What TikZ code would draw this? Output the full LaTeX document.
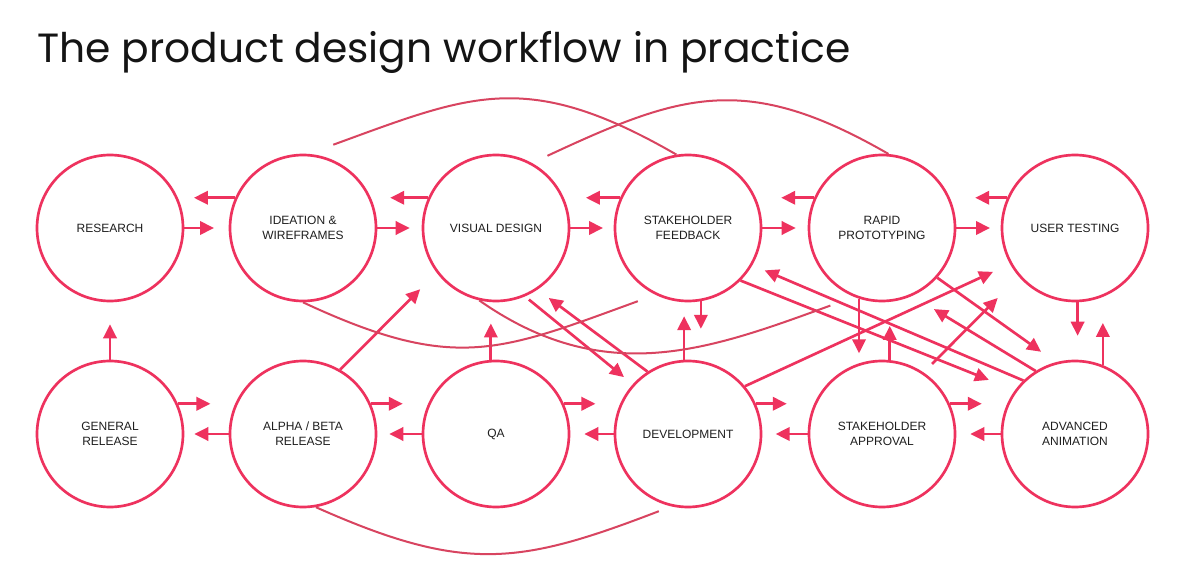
\documentclass[tikz,border=0pt]{standalone}
\usepackage{fontspec}
\setmainfont{Liberation Sans}
\newfontfamily\titlefont{Poppins}
\usetikzlibrary{arrows.meta}

\definecolor{flowred}{RGB}{238,50,94}
\definecolor{swoopred}{RGB}{216,68,96}

\begin{document}
\begin{tikzpicture}[x=0.75pt,y=-0.75pt,
    stage/.style={circle, draw=flowred, line width=2pt, minimum size=109.5pt,
        inner sep=0pt, align=center, text=black!88,
        font=\fontsize{9}{11}\selectfont},
    link/.style={draw=flowred, line width=2pt,
        -{Triangle[length=10.5pt,width=10pt]}},
    swoop/.style={draw=swoopred, line width=1.5pt}]
    \fill[white] (0,0) rectangle (1200,581);
    \useasboundingbox (0,0) rectangle (1200,581);

    \node[anchor=base west, inner sep=0pt, text=black!92,
        font=\titlefont\fontsize{30.6}{36}\selectfont] (title) at (37,63)
        {The product design workflow in practice};

    % top row
    \node[stage] (res) at (110,228) {RESEARCH};
    \node[stage] (ide) at (303,228) {IDEATION \&\\WIREFRAMES};
    \node[stage] (vis) at (496,228) {VISUAL DESIGN};
    \node[stage] (sfb) at (688,228) {STAKEHOLDER\\FEEDBACK};
    \node[stage] (rap) at (882,228) {RAPID\\PROTOTYPING};
    \node[stage] (ute) at (1075,228) {USER TESTING};

    % bottom row
    \node[stage] (gen) at (110,434) {GENERAL\\RELEASE};
    \node[stage] (alp) at (303,434) {ALPHA / BETA\\RELEASE};
    \node[stage] (qa)  at (496,434) {QA};
    \node[stage] (dev) at (688,434) {DEVELOPMENT};
    \node[stage] (sap) at (882,434) {STAKEHOLDER\\APPROVAL};
    \node[stage] (ani) at (1075,434) {ADVANCED\\ANIMATION};

    % top row, back and forth
    \draw[link, shorten >=12pt] (ide.156) -- (res.24);
    \draw[link, shorten >=11pt] (res.east) -- (ide.west);
    \draw[link, shorten >=14.5pt] (vis.156) -- (ide.24);
    \draw[link, shorten >=9pt] (ide.east) -- (vis.west);
    \draw[link, shorten >=16.5pt] (sfb.156) -- (vis.24);
    \draw[link, shorten >=8pt] (vis.east) -- (sfb.west);
    \draw[link, shorten >=19pt] (rap.156) -- (sfb.24);
    \draw[link, shorten >=9pt] (sfb.east) -- (rap.west);
    \draw[link, shorten >=19pt] (ute.156) -- (rap.24);
    \draw[link, shorten >=8pt] (rap.east) -- (ute.west);

    % bottom row, back and forth
    \draw[link, shorten >=18.5pt] (gen.24) -- (alp.156);
    \draw[link, shorten >=7.5pt] (alp.west) -- (gen.east);
    \draw[link, shorten >=19pt] (alp.24) -- (qa.156);
    \draw[link, shorten >=9pt] (qa.west) -- (alp.east);
    \draw[link, shorten >=18.5pt] (qa.24) -- (dev.156);
    \draw[link, shorten >=10.5pt] (dev.west) -- (qa.east);
    \draw[link, shorten >=20.5pt] (dev.24) -- (sap.156);
    \draw[link, shorten >=10pt] (sap.west) -- (dev.east);
    \draw[link, shorten >=19pt] (sap.24) -- (ani.156);
    \draw[link, shorten >=10.5pt] (ani.west) -- (sap.east);

    % between the rows
    \draw[link, shorten >=16.5pt] (gen.north) -- (res.south);
    \draw[link, shorten >=16pt] (qa.94) -- (vis.266);
    \draw[link, shorten >=17.5pt] (alp.60) -- (vis.217);
    \draw[link, shorten >=24pt] (sfb.280) -- (dev.80);
    \draw[link, shorten >=10.5pt] (dev.93) -- (sfb.267);
    \draw[link, shorten >=7.5pt] (rap.252) -- (sap.108);
    \draw[link, shorten >=18pt] (sap.84) -- (rap.276);
    \draw[link, shorten >=18pt] (ute.272) -- (ani.88);
    \draw[link, shorten >=19.5pt] (ani.68) -- (ute.292);
    \draw[link, shorten <=3.75pt, shorten >=8.5pt] (vis.293) -- (dev.138);
    \draw[link, shorten >=10.5pt] (dev.123) -- (vis.304);
    \draw[link, shorten >=13.5pt] (rap.318) -- (ani.105);
    \draw[link, shorten >=19pt] (ani.122) -- (rap.294);
    \draw[link, shorten >=10pt] (ani.134) -- (sfb.330);
    \draw[link, shorten >=21pt] (sfb.315) -- (ani.144);
    \draw[link, shorten <=9pt, shorten >=22.5pt] (sap.56) -- (ute.221);
    \draw[link, shorten >=14pt] (dev.40) -- (ute.209);

    % long swoops
    \draw[swoop, shorten <=20pt] (ide.86) to[out=20, in=150, looseness=1.2] (sfb.99);
    \draw[swoop, shorten <=12.75pt] (vis.61) to[out=25, in=150, looseness=1.18] (rap.85);
    \draw[swoop, shorten >=14pt] (ide.270) to[out=-25, in=200, looseness=1.21] (sfb.244);
    \draw[swoop, shorten >=19pt] (vis.257) to[out=-35, in=200, looseness=1.05] (rap.248);
    \draw[swoop, shorten >=10pt] (alp.280) to[out=-24, in=201, looseness=1.17] (dev.257);
\end{tikzpicture}
\end{document}
